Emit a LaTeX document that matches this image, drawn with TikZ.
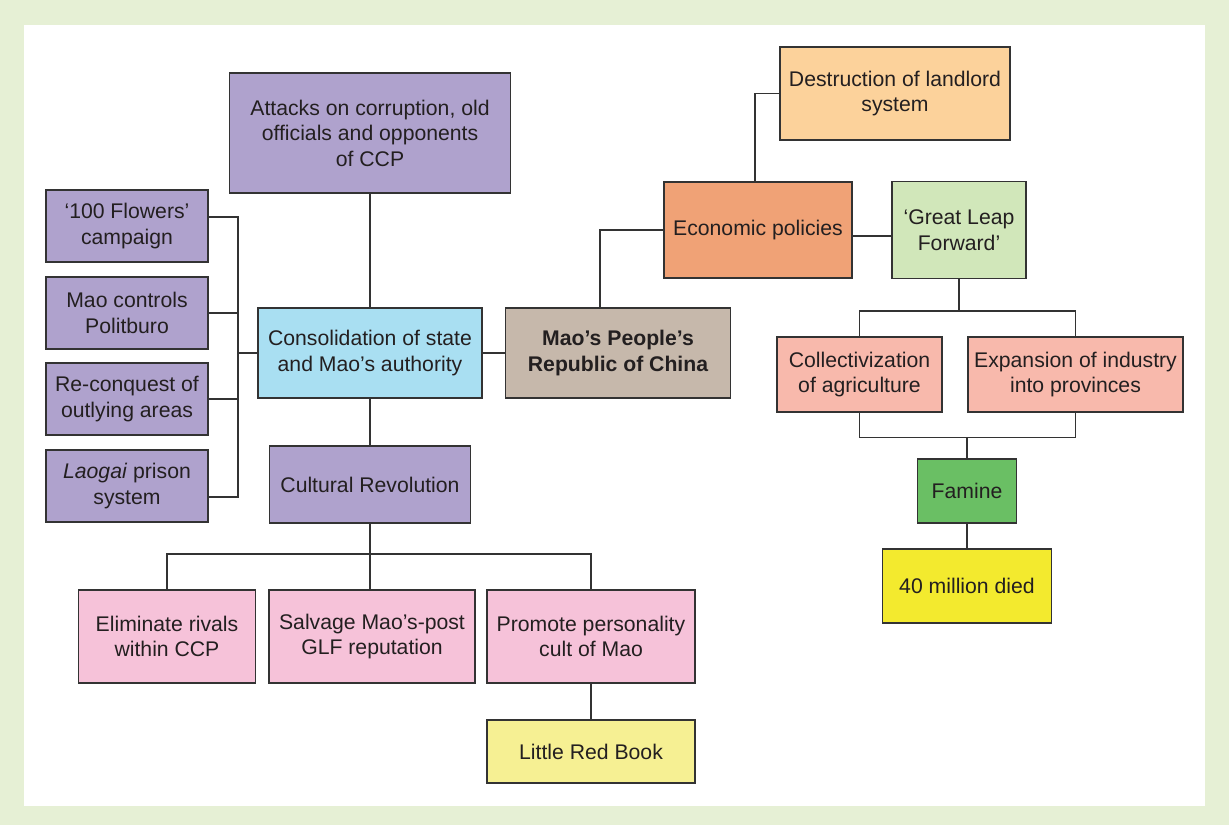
\documentclass[tikz,border=0pt]{standalone}
\usepackage{fontspec}
\setmainfont{Liberation Sans}
\definecolor{bggreen}{HTML}{E6F0D5}
\definecolor{cpurple}{HTML}{AFA2CD}
\definecolor{cblue}{HTML}{A9DFF2}
\definecolor{ctan}{HTML}{C6B8AB}
\definecolor{corange}{HTML}{F0A276}
\definecolor{cpeach}{HTML}{FCD29B}
\definecolor{clgreen}{HTML}{D1E7BA}
\definecolor{csalmon}{HTML}{F8B9AC}
\definecolor{cgreen}{HTML}{6ABF64}
\definecolor{cyellow}{HTML}{F3EA2E}
\definecolor{cpink}{HTML}{F6C2D9}
\definecolor{cpale}{HTML}{F6F093}
\definecolor{cline}{HTML}{333333}
\definecolor{ctext}{HTML}{231F20}
\begin{document}
\begin{tikzpicture}[x=1pt,y=-1pt,
  box/.style={draw=cline, line width=1.3pt, inner sep=0pt, align=center,
    font=\fontsize{21.2}{25.5}\selectfont, text=ctext},
  conn/.style={draw=cline, line width=1.2pt}]
\useasboundingbox (0,0) rectangle (1229,825);
\fill[bggreen] (0,0) rectangle (1229,825);
\fill[white] (24,25) rectangle (1205,806);

% left side
\node[box, fill=cpurple, minimum width=281pt, minimum height=120pt] (att) at (370,133) {Attacks on corruption, old\\officials and opponents\\of CCP};
\node[box, fill=cpurple, minimum width=162pt, minimum height=72pt] (flw) at (127,226) {‘100 Flowers’\\campaign};
\node[box, fill=cpurple, minimum width=162pt, minimum height=72pt] (mcp) at (127,313) {Mao controls\\Politburo};
\node[box, fill=cpurple, minimum width=162pt, minimum height=72pt] (rcq) at (127,399) {Re-conquest of\\outlying areas};
\node[box, fill=cpurple, minimum width=162pt, minimum height=72pt] (lao) at (127,486) {\textit{Laogai} prison\\system};
\node[box, fill=cblue, minimum width=224pt, minimum height=90pt] (cons) at (370,353) {Consolidation of state\\and Mao’s authority};
\node[box, fill=ctan, minimum width=225pt, minimum height=90pt] (prc) at (618,353) {\bfseries Mao’s People’s\\\bfseries Republic of China};
\node[box, fill=cpurple, minimum width=201pt, minimum height=77pt] (cr) at (370,484.5) {Cultural Revolution};
\node[box, fill=cpink, minimum width=177pt, minimum height=93pt] (elim) at (167,636.5) {Eliminate rivals\\within CCP};
\node[box, fill=cpink, minimum width=206pt, minimum height=93pt] (salv) at (372,636.5) {Salvage Mao’s-post\\GLF reputation};
\node[box, fill=cpink, minimum width=208pt, minimum height=93pt] (prom) at (591,636.5) {Promote personality\\cult of Mao};
\node[box, fill=cpale, minimum width=208pt, minimum height=63pt] (lrb) at (591,751.5) {Little Red Book};

% right side
\node[box, fill=corange, minimum width=188pt, minimum height=96pt] (eco) at (758,230) {Economic policies};
\node[box, fill=cpeach, minimum width=230pt, minimum height=93pt] (dest) at (895,93.5) {Destruction of landlord\\system};
\node[box, fill=clgreen, minimum width=134pt, minimum height=97pt] (glf) at (959,230) {‘Great Leap\\Forward’};
\node[box, fill=csalmon, minimum width=165pt, minimum height=75pt] (col) at (859.5,374.5) {Collectivization\\of agriculture};
\node[box, fill=csalmon, minimum width=215pt, minimum height=75pt] (exp) at (1075.5,374.5) {Expansion of industry\\into provinces};
\node[box, fill=cgreen, minimum width=99pt, minimum height=64pt] (fam) at (967,491) {Famine};
\node[box, fill=cyellow, minimum width=169pt, minimum height=74pt] (dead) at (967,586) {40 million died};

% junction points
\coordinate (lbar) at (238,353);
\coordinate (gj) at (959,311);
\coordinate (fj) at (967,437.5);
\coordinate (cj) at (370,554);

% connectors
\draw[conn] ([yshift=9pt]flw.east) -| (lbar);
\draw[conn] ([yshift=-11pt]lao.east) -| (lbar);
\draw[conn] (mcp.east) -| (lbar);
\draw[conn] (rcq.east) -| (lbar);
\draw[conn] (lbar) -- (cons.west);
\draw[conn] (att.south) -- (cons.north);
\draw[conn] (cons.east) -- (prc.west);
\draw[conn] ([xshift=-18pt]prc.north) |- (eco.west);
\draw[conn] ([xshift=-3pt]eco.north) |- (dest.west);
\draw[conn] ([yshift=-6pt]eco.east) -- ([yshift=-6pt]glf.west);
\draw[conn] (glf.south) -- (gj);
\draw[conn] (col.north) |- (gj) -| (exp.north);
\draw[conn] (col.south) |- (fj) -| (exp.south);
\draw[conn] (fj) -- (fam.north);
\draw[conn] (fam.south) -- (dead.north);
\draw[conn] (cons.south) -- (cr.north);
\draw[conn] (cr.south) -- (cj);
\draw[conn] (cj) -- (cj |- salv.north);
\draw[conn] (elim.north) |- (cj) -| (prom.north);
\draw[conn] (prom.south) -- (lrb.north);
\end{tikzpicture}
\end{document}
